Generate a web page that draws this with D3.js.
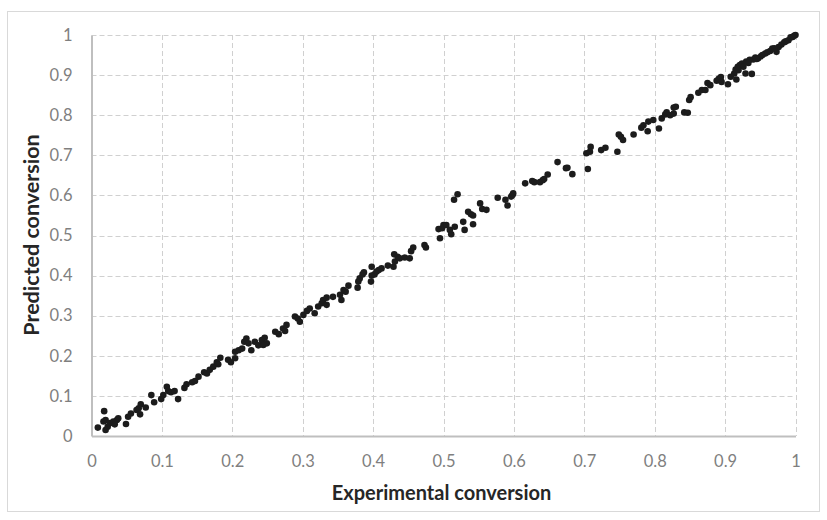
<!DOCTYPE html>
<html>
<head>
<meta charset="utf-8">
<script src="https://cdn.jsdelivr.net/npm/d3@7/dist/d3.min.js"></script>
<style>
  html, body { margin: 0; padding: 0; background: #fff; }
  svg { display: block; }
  text { font-family: Lato, "Liberation Sans", sans-serif; }
</style>
</head>
<body>
<svg id="chart" width="827" height="520"></svg>
<script>
// Experimental vs. predicted conversion (parity plot)
const expConv = [
  0.009,0.018,0.020,0.020,0.023,0.026,0.031,0.036,0.038,0.033,0.017,0.049,0.052,0.056,0.064,0.067,0.070,0.069,0.077,0.085,
  0.089,0.099,0.102,0.107,0.109,0.113,0.118,0.123,0.132,0.135,0.143,0.147,0.152,0.160,
  0.164,0.168,0.173,0.178,0.183,0.180,0.194,0.198,0.204,0.204,0.209,0.214,0.217,0.220,0.223,0.227,0.232,0.237,0.242,0.246,
  0.249,0.244,0.261,0.266,0.272,0.275,0.277,0.289,0.293,0.296,0.301,0.306,0.310,0.317,0.322,0.327,0.329,
  0.334,0.334,0.343,0.353,0.355,0.358,0.361,0.365,0.378,0.379,0.381,0.385,0.387,0.397,0.398,0.398,0.402,0.405,0.408,0.412,
  0.421,0.429,0.431,0.430,0.435,0.438,0.445,0.452,0.454,0.457,0.473,0.475,0.493,0.495,0.498,0.500,
  0.504,0.509,0.511,0.516,0.515,0.520,0.528,0.530,0.535,0.539,0.542,0.542,0.552,0.555,0.561,0.577,0.588,0.591,0.596,0.599,
  0.598,0.616,0.626,0.629,0.637,0.641,0.643,0.648,0.662,0.674,
  0.676,0.683,0.705,0.703,0.709,0.708,0.724,0.730,0.747,0.749,0.752,0.755,0.770,0.781,0.784,0.790,0.791,0.798,0.806,0.810,
  0.815,0.817,0.822,0.827,0.827,0.830,0.842,
  0.847,0.849,0.851,0.862,0.867,0.872,0.875,0.879,0.888,0.891,0.894,0.895,0.904,0.913,0.915,0.918,0.916,0.921,0.924,0.929,
  0.930,0.935,0.938,0.940,0.943,0.947,0.951,0.957,0.964,0.967,0.973,0.976,0.980,0.984,0.990,0.993,0.998,1.000,
  0.926,0.933,0.945,0.953,0.960,0.970,0.986,0.996,0.908,0.919
];
const predConv = [
  0.021,0.062,0.040,0.015,0.023,0.032,0.036,0.040,0.044,0.029,0.036,0.030,0.048,0.056,0.065,0.069,0.079,0.054,0.071,0.102,
  0.084,0.092,0.102,0.123,0.112,0.109,0.112,0.092,0.120,0.129,0.134,0.137,0.148,0.159,
  0.156,0.165,0.173,0.184,0.195,0.179,0.190,0.184,0.194,0.210,0.214,0.218,0.235,0.243,0.231,0.214,0.235,0.226,0.239,0.245,
  0.231,0.227,0.260,0.254,0.268,0.262,0.277,0.298,0.293,0.285,0.302,0.312,0.318,0.306,0.323,0.331,0.339,
  0.345,0.327,0.347,0.352,0.339,0.364,0.360,0.375,0.370,0.385,0.393,0.403,0.408,0.385,0.422,0.400,0.403,0.410,0.414,0.418,
  0.425,0.422,0.435,0.453,0.447,0.443,0.445,0.443,0.461,0.470,0.476,0.470,0.516,0.493,0.518,0.526,
  0.526,0.514,0.503,0.522,0.589,0.603,0.534,0.514,0.559,0.553,0.550,0.528,0.580,0.566,0.564,0.594,0.589,0.575,0.597,0.605,
  0.601,0.630,0.636,0.633,0.633,0.638,0.641,0.652,0.683,0.668,
  0.669,0.653,0.666,0.705,0.721,0.709,0.713,0.719,0.709,0.752,0.746,0.738,0.752,0.769,0.775,0.760,0.784,0.788,0.767,0.792,
  0.802,0.807,0.800,0.804,0.819,0.821,0.807,
  0.806,0.838,0.845,0.856,0.863,0.863,0.880,0.875,0.886,0.891,0.895,0.883,0.877,0.904,0.914,0.921,0.889,0.925,0.929,0.904,
  0.934,0.938,0.903,0.939,0.944,0.942,0.947,0.954,0.960,0.966,0.958,0.970,0.976,0.982,0.987,0.994,0.998,1.000,
  0.921,0.930,0.940,0.950,0.957,0.967,0.984,0.995,0.896,0.912
];
const tickValues = [0,0.1,0.2,0.3,0.4,0.5,0.6,0.7,0.8,0.9,1];
const tickLabels = ["0","0.1","0.2","0.3","0.4","0.5","0.6","0.7","0.8","0.9","1"];
const xTitle = "Experimental conversion";
const yTitle = "Predicted conversion";

const svg = d3.select("#chart");
const plot = { left: 91.5, right: 795.5, top: 35, bottom: 436 };

// outer chart frame
svg.append("rect")
  .attr("x", 7.5).attr("y", 11.5)
  .attr("width", 812).attr("height", 500)
  .attr("fill", "#fff").attr("stroke", "#d9d9d9").attr("stroke-width", 1);

const x = d3.scaleLinear().domain([0, 1]).range([plot.left, plot.right]);
const y = d3.scaleLinear().domain([0, 1]).range([plot.bottom, plot.top]);

// dashed gridlines
const grid = svg.append("g").attr("stroke", "#d0d0d0").attr("stroke-width", 1)
  .attr("stroke-dasharray", "5,3");
grid.selectAll("line.h").data(tickValues.filter(v => v > 0)).join("line")
  .attr("class", "h")
  .attr("x1", plot.left).attr("x2", plot.right)
  .attr("y1", d => Math.round(y(d)) + 0.5).attr("y2", d => Math.round(y(d)) + 0.5);
grid.selectAll("line.v").data(tickValues.filter(v => v > 0)).join("line")
  .attr("class", "v")
  .attr("y1", plot.top).attr("y2", plot.bottom)
  .attr("x1", d => Math.round(x(d)) + 0.5).attr("x2", d => Math.round(x(d)) + 0.5);

// axes
const fmt = d => tickLabels[tickValues.indexOf(d)];
const xAxis = svg.append("g").attr("transform", `translate(0,${plot.bottom})`)
  .call(d3.axisBottom(x).tickValues(tickValues).tickFormat(fmt).tickSize(0).tickPadding(19));
const yAxis = svg.append("g").attr("transform", `translate(${plot.left},0)`)
  .call(d3.axisLeft(y).tickValues(tickValues).tickFormat(fmt).tickSize(0).tickPadding(19));
[xAxis, yAxis].forEach(g => {
  g.select(".domain").attr("stroke", "#bfbfbf").attr("stroke-width", 2);
  g.selectAll("text").attr("fill", "#7f7f7f").style("font-size", "16.5px")
    .style("font-family", "Lato, 'Liberation Sans', sans-serif");
});

// points
svg.append("g").selectAll("circle")
  .data(expConv.map((v, i) => [v, predConv[i]]))
  .join("circle")
  .attr("cx", d => x(d[0])).attr("cy", d => y(d[1]))
  .attr("r", 3.3).attr("fill", "#1c1c1c");

// axis titles
svg.append("text")
  .attr("x", 441.5).attr("y", 500)
  .attr("text-anchor", "middle")
  .attr("font-weight", "bold").attr("font-size", 20).attr("fill", "#262626")
  .text(xTitle);
svg.append("text")
  .attr("transform", "translate(39,235) rotate(-90)")
  .attr("text-anchor", "middle")
  .attr("font-weight", "bold").attr("font-size", 21.5).attr("fill", "#262626")
  .text(yTitle);
</script>
</body>
</html>
